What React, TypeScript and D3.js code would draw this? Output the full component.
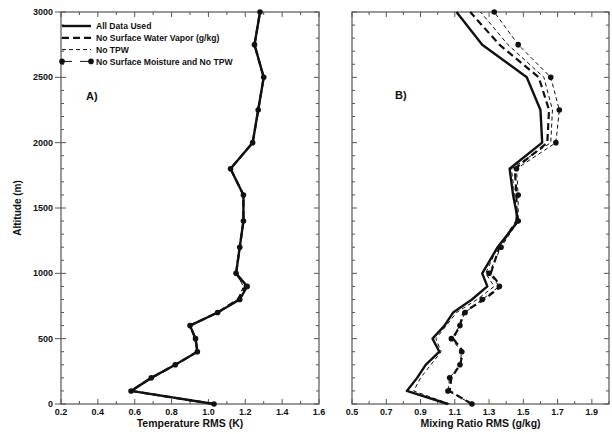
import * as d3 from "d3";

// altitude levels (m) shared by all profiles
const altitude = [0, 100, 200, 300, 400, 500, 600, 700, 800, 900, 1000, 1200, 1400, 1600, 1800, 2000, 2250, 2500, 2750, 3000];

// Panel A: temperature RMS (K)
const tempAll = [1.03, 0.58, 0.69, 0.82, 0.94, 0.93, 0.9, 1.05, 1.17, 1.21, 1.15, 1.17, 1.19, 1.19, 1.12, 1.24, 1.27, 1.3, 1.25, 1.28];
const tempNoSfcVapor = [1.03, 0.58, 0.69, 0.82, 0.94, 0.93, 0.9, 1.05, 1.16, 1.2, 1.15, 1.17, 1.19, 1.19, 1.12, 1.24, 1.27, 1.3, 1.25, 1.28];
const tempNoTpw = [1.03, 0.58, 0.69, 0.82, 0.94, 0.93, 0.9, 1.05, 1.16, 1.19, 1.15, 1.17, 1.19, 1.19, 1.12, 1.24, 1.27, 1.3, 1.25, 1.28];
const tempNoSfcNoTpw = [1.03, 0.58, 0.69, 0.82, 0.94, 0.93, 0.9, 1.05, 1.17, 1.21, 1.15, 1.17, 1.19, 1.19, 1.12, 1.24, 1.27, 1.3, 1.25, 1.28];

// Panel B: mixing ratio RMS (g/kg)
const mixAll = [1.06, 0.82, 0.88, 0.93, 1.01, 0.97, 1.04, 1.09, 1.2, 1.29, 1.26, 1.35, 1.47, 1.44, 1.42, 1.61, 1.6, 1.52, 1.26, 1.11];
const mixNoSfcVapor = [1.2, 1.07, 1.08, 1.13, 1.15, 1.09, 1.13, 1.15, 1.27, 1.37, 1.31, 1.36, 1.46, 1.46, 1.45, 1.64, 1.65, 1.59, 1.36, 1.19];
const mixNoTpw = [1.07, 0.86, 0.9, 0.96, 1.02, 0.99, 1.05, 1.11, 1.23, 1.33, 1.28, 1.35, 1.46, 1.45, 1.43, 1.66, 1.67, 1.62, 1.41, 1.25];
const mixNoSfcNoTpw = [1.2, 1.06, 1.07, 1.13, 1.14, 1.08, 1.13, 1.16, 1.26, 1.36, 1.3, 1.37, 1.47, 1.47, 1.46, 1.69, 1.71, 1.66, 1.47, 1.33];

const seriesNames = ["All Data Used", "No Surface Water Vapor (g/kg)", "No TPW", "No Surface Moisture and No TPW"];

const altTicks = [0, 500, 1000, 1500, 2000, 2500, 3000];
const tempTicks = [0.2, 0.4, 0.6, 0.8, 1.0, 1.2, 1.4, 1.6];
const mixTicks = [0.5, 0.7, 0.9, 1.1, 1.3, 1.5, 1.7, 1.9];

const styles = [
  { width: 2.4, dash: "none", dots: false },
  { width: 2.2, dash: "7,4", dots: false },
  { width: 1, dash: "4,3", dots: false },
  { width: 1, dash: "4,3", dots: true },
];

const font = "'Liberation Sans', Arial, sans-serif";
const ink = "#111";
const axisInk = "#555";

const y = d3.scaleLinear().domain([0, 3000]).range([404, 12]);

function Panel({ x, ticks, minor, series, label, labelPos, title, yLabels }) {
  const [x0, x1] = x.range();
  const [y0, y1] = y.range();
  const line = d3
    .line<number>()
    .x((d) => x(d))
    .y((_, i) => y(altitude[i]));
  return (
    <g>
      {/* ticks point inward on all four sides */}
      {minor.map((t) => {
        const big = ticks.some((m) => Math.abs(m - t) < 1e-6);
        const len = big ? 5 : 3;
        return (
          <g key={"x" + t} stroke={axisInk} strokeWidth={1}>
            <line x1={x(t)} x2={x(t)} y1={y0} y2={y0 - len} />
            <line x1={x(t)} x2={x(t)} y1={y1} y2={y1 + len} />
          </g>
        );
      })}
      {d3.range(0, 3001, 100).map((a) => {
        const big = a % 500 === 0;
        const len = big ? 5 : 3;
        return (
          <g key={"y" + a} stroke={axisInk} strokeWidth={1}>
            <line x1={x0 - (big && yLabels ? 6 : 0)} x2={x0 + len} y1={y(a)} y2={y(a)} />
            <line x1={x1} x2={x1 - len} y1={y(a)} y2={y(a)} />
          </g>
        );
      })}
      <rect x={x0} y={y1} width={x1 - x0} height={y0 - y1} fill="none" stroke={axisInk} strokeWidth={1.2} />
      {ticks.map((t) => (
        <text key={"tl" + t} x={x(t)} y={415} textAnchor="middle" fontSize={9} fontWeight="bold" fill={ink}>
          {d3.format(".1f")(t)}
        </text>
      ))}
      {yLabels &&
        altTicks.map((a) => (
          <text key={"al" + a} x={53} y={y(a) + 3} textAnchor="end" fontSize={9} fontWeight="bold" fill={ink}>
            {a}
          </text>
        ))}
      <text x={(x0 + x1) / 2} y={427} textAnchor="middle" fontSize={10.5} fontWeight="bold" fill={ink}>
        {title}
      </text>
      <text x={labelPos[0]} y={labelPos[1]} fontSize={11} fontWeight="bold" fill={ink}>
        {label}
      </text>
      {series.map((vals, si) => {
        const s = styles[si];
        return (
          <g key={"s" + si}>
            <path d={line(vals)} fill="none" stroke={ink} strokeWidth={s.width} strokeDasharray={s.dash} strokeLinejoin="round" />
            {s.dots &&
              vals.map((v, i) => <circle key={i} cx={x(v)} cy={y(altitude[i])} r={2.8} fill={ink} />)}
          </g>
        );
      })}
    </g>
  );
}

function Legend({ left, top }) {
  return (
    <g>
      {seriesNames.map((name, i) => {
        const s = styles[i];
        const yy = top + i * 11.8;
        return (
          <g key={name}>
            {s.dots ? (
              <g stroke={ink} strokeWidth={1}>
                <line x1={left} x2={left + 10} y1={yy} y2={yy} />
                <line x1={left + 18} x2={left + 29} y1={yy} y2={yy} />
                <circle cx={left} cy={yy} r={2.8} fill={ink} stroke="none" />
                <circle cx={left + 29} cy={yy} r={2.8} fill={ink} stroke="none" />
              </g>
            ) : (
              <line x1={left} x2={left + 29} y1={yy} y2={yy} stroke={ink} strokeWidth={s.width} strokeDasharray={s.dash} />
            )}
            <text x={left + 34} y={yy + 3.2} fontSize={8.6} fontWeight="bold" fill={ink}>
              {name}
            </text>
          </g>
        );
      })}
    </g>
  );
}

export default function App() {
  const xA = d3.scaleLinear().domain([0.2, 1.6]).range([61, 319]);
  const xB = d3.scaleLinear().domain([0.5, 2.0]).range([352, 609]);
  return (
    <div style={{ position: "absolute", left: 0, top: 0 }}>
      <svg width={612} height={434} viewBox="0 0 612 434" fontFamily={font} style={{ display: "block", background: "#fff" }}>
        <Panel
          x={xA}
          ticks={tempTicks}
          minor={d3.range(0.2, 1.6001, 0.1)}
          series={[tempAll, tempNoSfcVapor, tempNoTpw, tempNoSfcNoTpw]}
          label="A)"
          labelPos={[86, 100]}
          title="Temperature RMS (K)"
          yLabels={true}
        />
        <Panel
          x={xB}
          ticks={mixTicks}
          minor={d3.range(0.5, 2.0001, 0.1)}
          series={[mixAll, mixNoSfcVapor, mixNoTpw, mixNoSfcNoTpw]}
          label="B)"
          labelPos={[395, 99]}
          title="Mixing Ratio RMS (g/kg)"
          yLabels={false}
        />
        <Legend left={62} top={26} />
        <text transform="translate(21,208) rotate(-90)" textAnchor="middle" fontSize={10} fontWeight="bold" fill={ink}>
          Altitude (m)
        </text>
      </svg>
    </div>
  );
}
